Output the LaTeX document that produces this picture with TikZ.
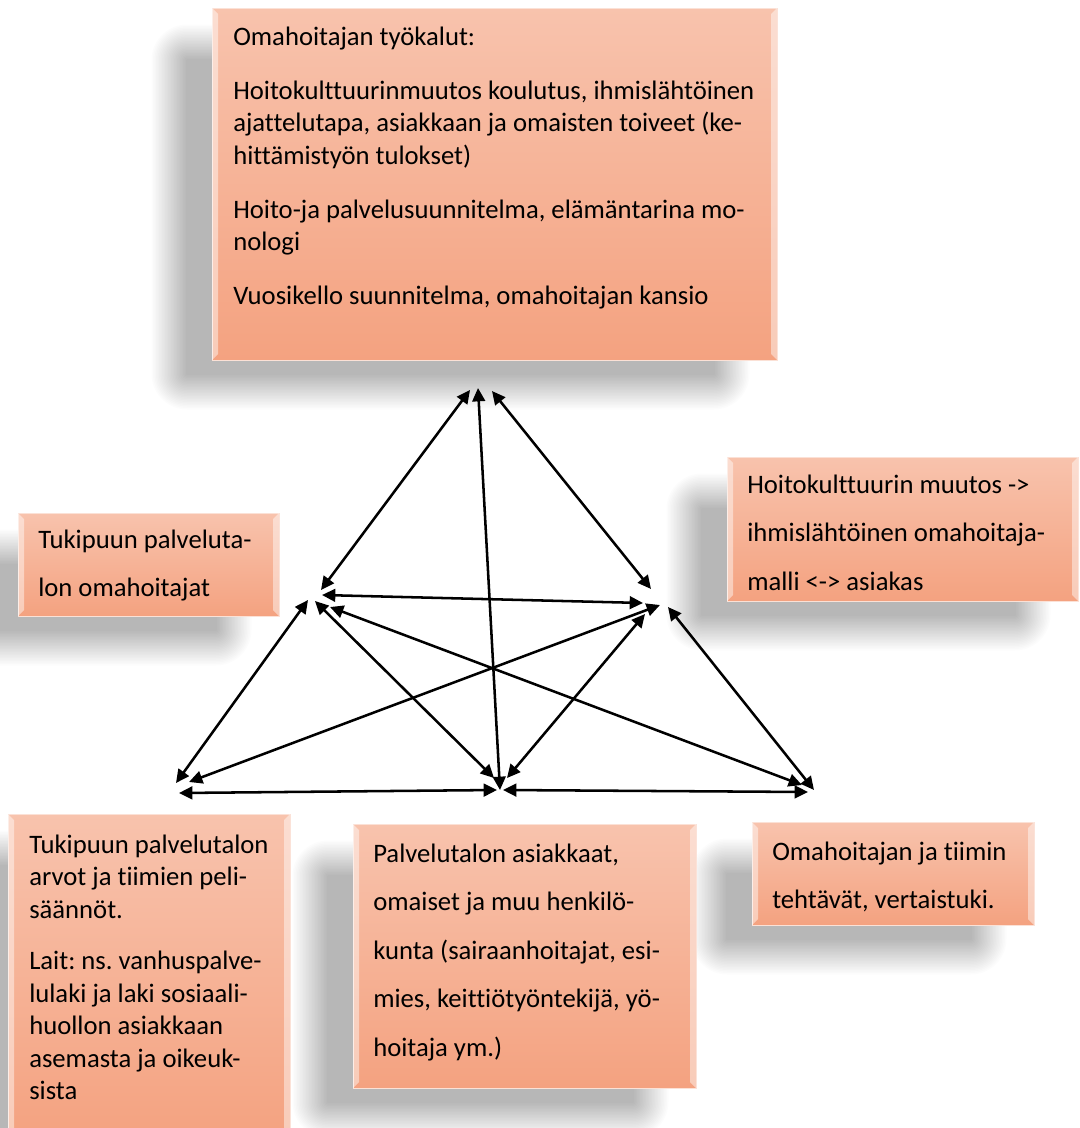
\documentclass[tikz,border=0pt]{standalone}
\usepackage{fontspec}
\setmainfont{Carlito}[Ligatures={NoCommon}]
\usetikzlibrary{arrows.meta,fit}
\frenchspacing
\definecolor{boxtop}{RGB}{248,195,173}
\definecolor{boxbot}{RGB}{244,162,128}
\newcommand{\fonta}{\fontsize{20pt}{24.4pt}\selectfont}
\newcommand{\fontb}{\fontsize{20pt}{36.3pt}\selectfont}
\newcommand{\lstrut}{\rule{0pt}{17pt}}
% soft shadow: box corners, offset (-44,+33)
\newcommand{\softshadow}[4]{%
  \foreach \k in {-12,...,11}{%
    \pgfmathsetmacro\she{\k*1.5}%
    \pgfmathsetmacro\shr{max(19+\she,0.5)*0.75}%
    \fill[black, opacity=0.013, rounded corners=\shr pt] ({#1-44-\she},{#2+33-\she}) rectangle ({#3-44+\she},{#4+33+\she});
  }%
}
\newcommand{\bevelbox}[5]{%
  \node[box, fit={(#2,#3) (#4,#5)}] (#1) {};
  \fill[white, opacity=0.45] (#2,#3) -- ({#2+6},{#3+6}) -- ({#2+6},{#5-6}) -- (#2,#5) -- cycle;
  \fill[white, opacity=0.45] (#4,#3) -- ({#4-6},{#3+6}) -- ({#4-6},{#5-6}) -- (#4,#5) -- cycle;
}
\tikzset{
  box/.style={rectangle, inner sep=0pt, outer sep=0pt, top color=boxtop, bottom color=boxbot, draw=boxtop!50!white, line width=0.4pt},
  txt/.style={anchor=north west, inner sep=0pt, align=left, text=black},
  conn/.style={line width=1.9pt, >={Triangle[length=10pt,width=9.5pt]}, <->}
}
\begin{document}
\begin{tikzpicture}[x=0.75pt, y=-0.75pt]
\useasboundingbox (0,0) rectangle (1079,1128);
\clip (0,0) rectangle (1079,1128);
\fill[white] (0,0) rectangle (1079,1128);

% shadows
\softshadow{212}{8}{777}{360}
\softshadow{18}{513}{279}{616}
\softshadow{727}{457}{1078}{601}
\softshadow{8}{814}{290}{1140}
\softshadow{353}{824}{696}{1088}
\softshadow{752}{822}{1034}{925}

% boxes
\bevelbox{topbox}{212}{8}{777}{360}
\bevelbox{leftbox}{18}{513}{279}{616}
\bevelbox{rightbox}{727}{457}{1078}{601}
\bevelbox{blbox}{8}{814}{290}{1140}
\bevelbox{bmbox}{353}{824}{696}{1088}
\bevelbox{brbox}{752}{822}{1034}{925}

% texts
\node[txt, font=\fonta] (toptext) at (233,22.5) {\lstrut Omahoitajan työkalut:\\[16pt]
Hoitokulttuurinmuutos koulutus, ihmislähtöinen\\
ajattelutapa, asiakkaan ja omaisten toiveet (ke-\\
hittämistyön tulokset)\\[16pt]
Hoito-ja palvelusuunnitelma, elämäntarina mo-\\
nologi\\[16pt]
Vuosikello suunnitelma, omahoitajan kansio};

\node[txt, font=\fontb] (lefttext) at (38,525.5) {\lstrut Tukipuun palveluta-\\ lon omahoitajat};

\node[txt, font=\fontb] (righttext) at (747,470.5) {\lstrut Hoitokulttuurin muutos ->\\ ihmislähtöinen omahoitaja-\\ malli <-> asiakas};

\node[txt, font=\fonta] (bltext) at (29,830.5) {\lstrut Tukipuun palvelutalon\\
arvot ja tiimien peli-\\
säännöt.\\[14pt]
Lait: ns. vanhuspalve-\\
lulaki ja laki sosiaali-\\
huollon asiakkaan\\
asemasta ja oikeuk-\\
sista};

\node[txt, font=\fontb] (bmtext) at (373,839.5) {\lstrut Palvelutalon asiakkaat,\\
omaiset ja muu henkilö-\\
kunta (sairaanhoitajat, esi-\\
mies, keittiötyöntekijä, yö-\\
hoitaja ym.)};

\node[txt, font=\fontb] (brtext) at (772,837.5) {\lstrut Omahoitajan ja tiimin\\ tehtävät, vertaistuki.};

% arrow end points
\coordinate (tL) at (470,390);
\coordinate (tR) at (492,391);
\coordinate (tM) at (478,388);
\coordinate (lT) at (321,590);
\coordinate (lR) at (322,595);
\coordinate (lBL) at (308,600);
\coordinate (lBM) at (315,601);
\coordinate (lBR) at (330,607);
\coordinate (rT) at (651,589);
\coordinate (rL) at (643,603);
\coordinate (rBL) at (660,605);
\coordinate (rBM) at (645,614);
\coordinate (rBR) at (668,607);
\coordinate (blL) at (176,783);
\coordinate (blR) at (189,782);
\coordinate (blM) at (179,793);
\coordinate (bmT) at (500,790);
\coordinate (bmL) at (494,778);
\coordinate (bmR) at (507,778);
\coordinate (bmBL) at (497,790);
\coordinate (bmBR) at (503,790);
\coordinate (brL) at (802,785);
\coordinate (brR) at (814,790);
\coordinate (brM) at (808,792);

\draw[conn] (tL) -- (lT);
\draw[conn] (tR) -- (rT);
\draw[conn] (tM) -- (bmT);
\draw[conn] (lR) -- (rL);
\draw[conn] (lBL) -- (blL);
\draw[conn] (lBM) -- (bmL);
\draw[conn] (lBR) -- (brL);
\draw[conn] (rBL) -- (blR);
\draw[conn] (rBM) -- (bmR);
\draw[conn] (rBR) -- (brR);
\draw[conn] (blM) -- (bmBL);
\draw[conn] (bmBR) -- (brM);
\end{tikzpicture}
\end{document}
